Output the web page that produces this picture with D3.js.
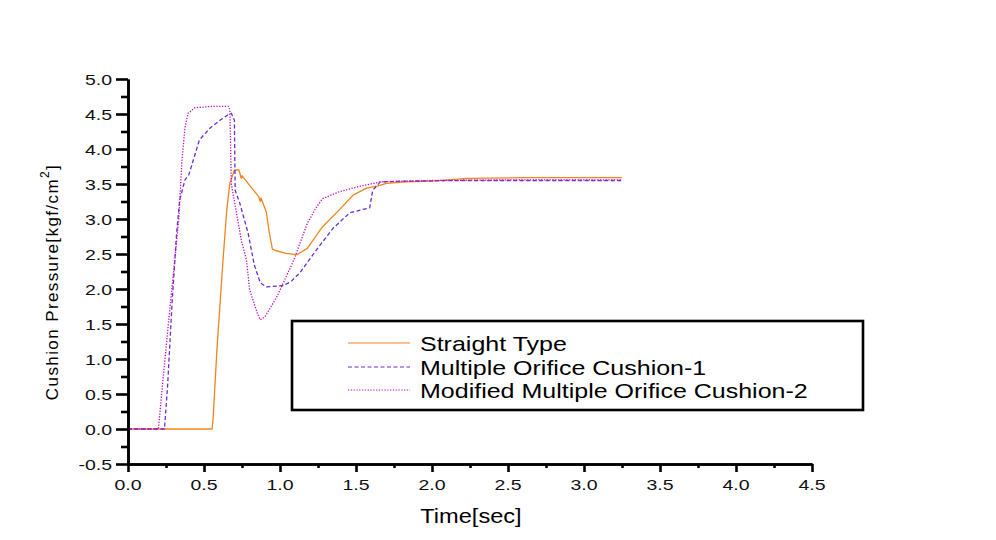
<!DOCTYPE html>
<html>
<head>
<meta charset="utf-8">
<script src="https://cdn.jsdelivr.net/npm/d3@7"></script>
<style>
  html, body { margin: 0; padding: 0; background: #fff; }
  svg { display: block; font-family: "Liberation Sans", Arial, sans-serif; }
</style>
</head>
<body>
<svg id="chart" width="996" height="540"></svg>
<script>
// values: [time (sec), pressure (kgf/cm2)]
const straightType = [
    [0, 0], [0.553, 0], [0.56, 0.15], [0.585, 1.13], [0.625, 2.41], [0.65, 3.13], [0.67, 3.51],
    [0.70, 3.70], [0.73, 3.70], [0.745, 3.58], [0.75, 3.62], [0.80, 3.48], [0.86, 3.32],
    [0.87, 3.25], [0.875, 3.30], [0.91, 3.10], [0.93, 2.80], [0.95, 2.57], [0.97, 2.55],
    [1.04, 2.51], [1.11, 2.49], [1.18, 2.58], [1.28, 2.89], [1.39, 3.13], [1.48, 3.34],
    [1.57, 3.44], [1.64, 3.47], [1.70, 3.51], [1.83, 3.53], [2.0, 3.54], [2.23, 3.58],
    [2.6, 3.59], [3.0, 3.59], [3.25, 3.59]
];
const orificeCushion1 = [
    [0, 0], [0.24, 0], [0.26, 0.6], [0.29, 1.8], [0.32, 2.8], [0.34, 3.27], [0.375, 3.56],
    [0.40, 3.63], [0.47, 4.13], [0.54, 4.30], [0.605, 4.41], [0.66, 4.49], [0.68, 4.51],
    [0.70, 4.41], [0.705, 3.41], [0.735, 3.23], [0.79, 2.80], [0.83, 2.35], [0.87, 2.09],
    [0.91, 2.03], [1.02, 2.05], [1.07, 2.10], [1.13, 2.23], [1.24, 2.56], [1.35, 2.87],
    [1.46, 3.09], [1.59, 3.16], [1.61, 3.41], [1.66, 3.53], [1.79, 3.54], [2.2, 3.55],
    [2.7, 3.55], [3.25, 3.55]
];
const modifiedCushion2 = [
    [0, 0], [0.20, 0], [0.23, 0.7], [0.27, 1.6], [0.31, 2.46], [0.335, 3.03], [0.355, 3.84],
    [0.375, 4.31], [0.395, 4.51], [0.44, 4.59], [0.56, 4.61], [0.66, 4.61], [0.67, 4.56],
    [0.68, 3.50], [0.745, 2.70], [0.78, 2.41], [0.80, 1.99], [0.85, 1.66], [0.87, 1.56],
    [0.90, 1.60], [0.98, 1.89], [1.09, 2.41], [1.18, 2.94], [1.24, 3.17], [1.28, 3.29],
    [1.39, 3.39], [1.53, 3.47], [1.66, 3.53], [2.0, 3.55], [2.6, 3.56], [3.25, 3.56]
];

const seriesNames = ['Straight Type', 'Multiple Orifice Cushion-1', 'Modified Multiple Orifice Cushion-2'];
const xTickValues = [0, 0.5, 1.0, 1.5, 2.0, 2.5, 3.0, 3.5, 4.0, 4.5];
const yTickValues = [-0.5, 0, 0.5, 1.0, 1.5, 2.0, 2.5, 3.0, 3.5, 4.0, 4.5, 5.0];
const xMinorValues = [0.25, 0.75, 1.25, 1.75, 2.25, 2.75, 3.25, 3.75, 4.25];
const yMinorValues = [-0.25, 0.25, 0.75, 1.25, 1.75, 2.25, 2.75, 3.25, 3.75, 4.25, 4.75];

const styles = [
    {color: '#f5841f', dash: null, width: 1.3},
    {color: '#6a2cd6', dash: '4,2.5', width: 1.3},
    {color: '#c010c0', dash: '1.3,1.5', width: 1.3}
];

const svg = d3.select('#chart');

const x = d3.scaleLinear().domain([0, 4.5]).range([128, 812]);
const y = d3.scaleLinear().domain([-0.5, 5.0]).range([464, 79]);

const line = d3.line()
    .x(d => x(d[0]))
    .y(d => y(d[1]));

// curves
const allSeries = [straightType, orificeCushion1, modifiedCushion2];
svg.append('g').selectAll('path')
    .data(allSeries)
    .enter()
    .append('path')
    .attr('d', line)
    .attr('fill', 'none')
    .attr('stroke', (d, i) => styles[i].color)
    .attr('stroke-width', (d, i) => styles[i].width)
    .attr('stroke-dasharray', (d, i) => styles[i].dash)
    .attr('stroke-linejoin', 'round');

// axes
const axisW = 2.6;
function styleAxis(g){
    g.selectAll('path, line').attr('stroke', '#000').attr('stroke-width', axisW);
    g.selectAll('text').remove();
}

svg.append('g')
    .attr('transform', `translate(0,${y(-0.5)})`)
    .call(d3.axisBottom(x).tickValues(xTickValues).tickSize(8).tickSizeOuter(0).tickFormat(''))
    .call(styleAxis);
svg.append('g')
    .attr('transform', `translate(0,${y(-0.5)})`)
    .call(d3.axisBottom(x).tickValues(xMinorValues).tickSize(4).tickSizeOuter(0).tickFormat(''))
    .call(styleAxis);

svg.append('g')
    .attr('transform', `translate(${x(0)},0)`)
    .call(d3.axisLeft(y).tickValues(yTickValues).tickSize(12).tickSizeOuter(0).tickFormat(''))
    .call(styleAxis);
svg.append('g')
    .attr('transform', `translate(${x(0)},0)`)
    .call(d3.axisLeft(y).tickValues(yMinorValues).tickSize(7).tickSizeOuter(0).tickFormat(''))
    .call(styleAxis);

// tick labels (glyphs are drawn wide in the reference)
svg.append('g').selectAll('text')
    .data(xTickValues)
    .enter()
    .append('text')
    .attr('transform', d => `translate(${x(d)},490) scale(1.3,1)`)
    .attr('text-anchor', 'middle')
    .attr('font-size', 15)
    .attr('fill', '#111')
    .text(d => d.toFixed(1));

svg.append('g').selectAll('text')
    .data(yTickValues)
    .enter()
    .append('text')
    .attr('transform', d => `translate(112,${y(d) + 5.5}) scale(1.3,1)`)
    .attr('text-anchor', 'end')
    .attr('font-size', 15)
    .attr('fill', '#111')
    .text(d => d.toFixed(1));

// axis titles
svg.append('text')
    .attr('transform', 'translate(471,523) scale(1.18,1)')
    .attr('text-anchor', 'middle')
    .attr('font-size', 20)
    .attr('fill', '#000')
    .text('Time[sec]');

const yTitle = svg.append('text')
    .attr('transform', 'translate(58,282) rotate(-90)')
    .attr('text-anchor', 'middle')
    .attr('font-size', 17)
    .attr('letter-spacing', 1.4)
    .attr('fill', '#000');
yTitle.append('tspan').text('Cushion Pressure[kgf/cm');
yTitle.append('tspan').attr('font-size', 12).attr('dy', -9).text('2');
yTitle.append('tspan').attr('dy', 9).text(']');

// legend
const legend = svg.append('g');
legend.append('rect')
    .attr('x', 292).attr('y', 321)
    .attr('width', 571).attr('height', 89)
    .attr('fill', '#fff')
    .attr('stroke', '#000')
    .attr('stroke-width', axisW);

const rowY = [343, 367, 390];
const rows = legend.selectAll('g.row')
    .data(seriesNames)
    .enter()
    .append('g')
    .attr('class', 'row')
    .attr('transform', (d, i) => `translate(0,${rowY[i]})`);

rows.append('line')
    .attr('x1', 348).attr('x2', 410)
    .attr('y1', 0).attr('y2', 0)
    .attr('stroke', (d, i) => styles[i].color)
    .attr('stroke-width', 1.1)
    .attr('stroke-dasharray', (d, i) => styles[i].dash);

rows.append('text')
    .attr('transform', 'translate(420,7.5) scale(1.22,1)')
    .attr('font-size', 20.5)
    .attr('fill', '#000')
    .text(d => d);
</script>
</body>
</html>
